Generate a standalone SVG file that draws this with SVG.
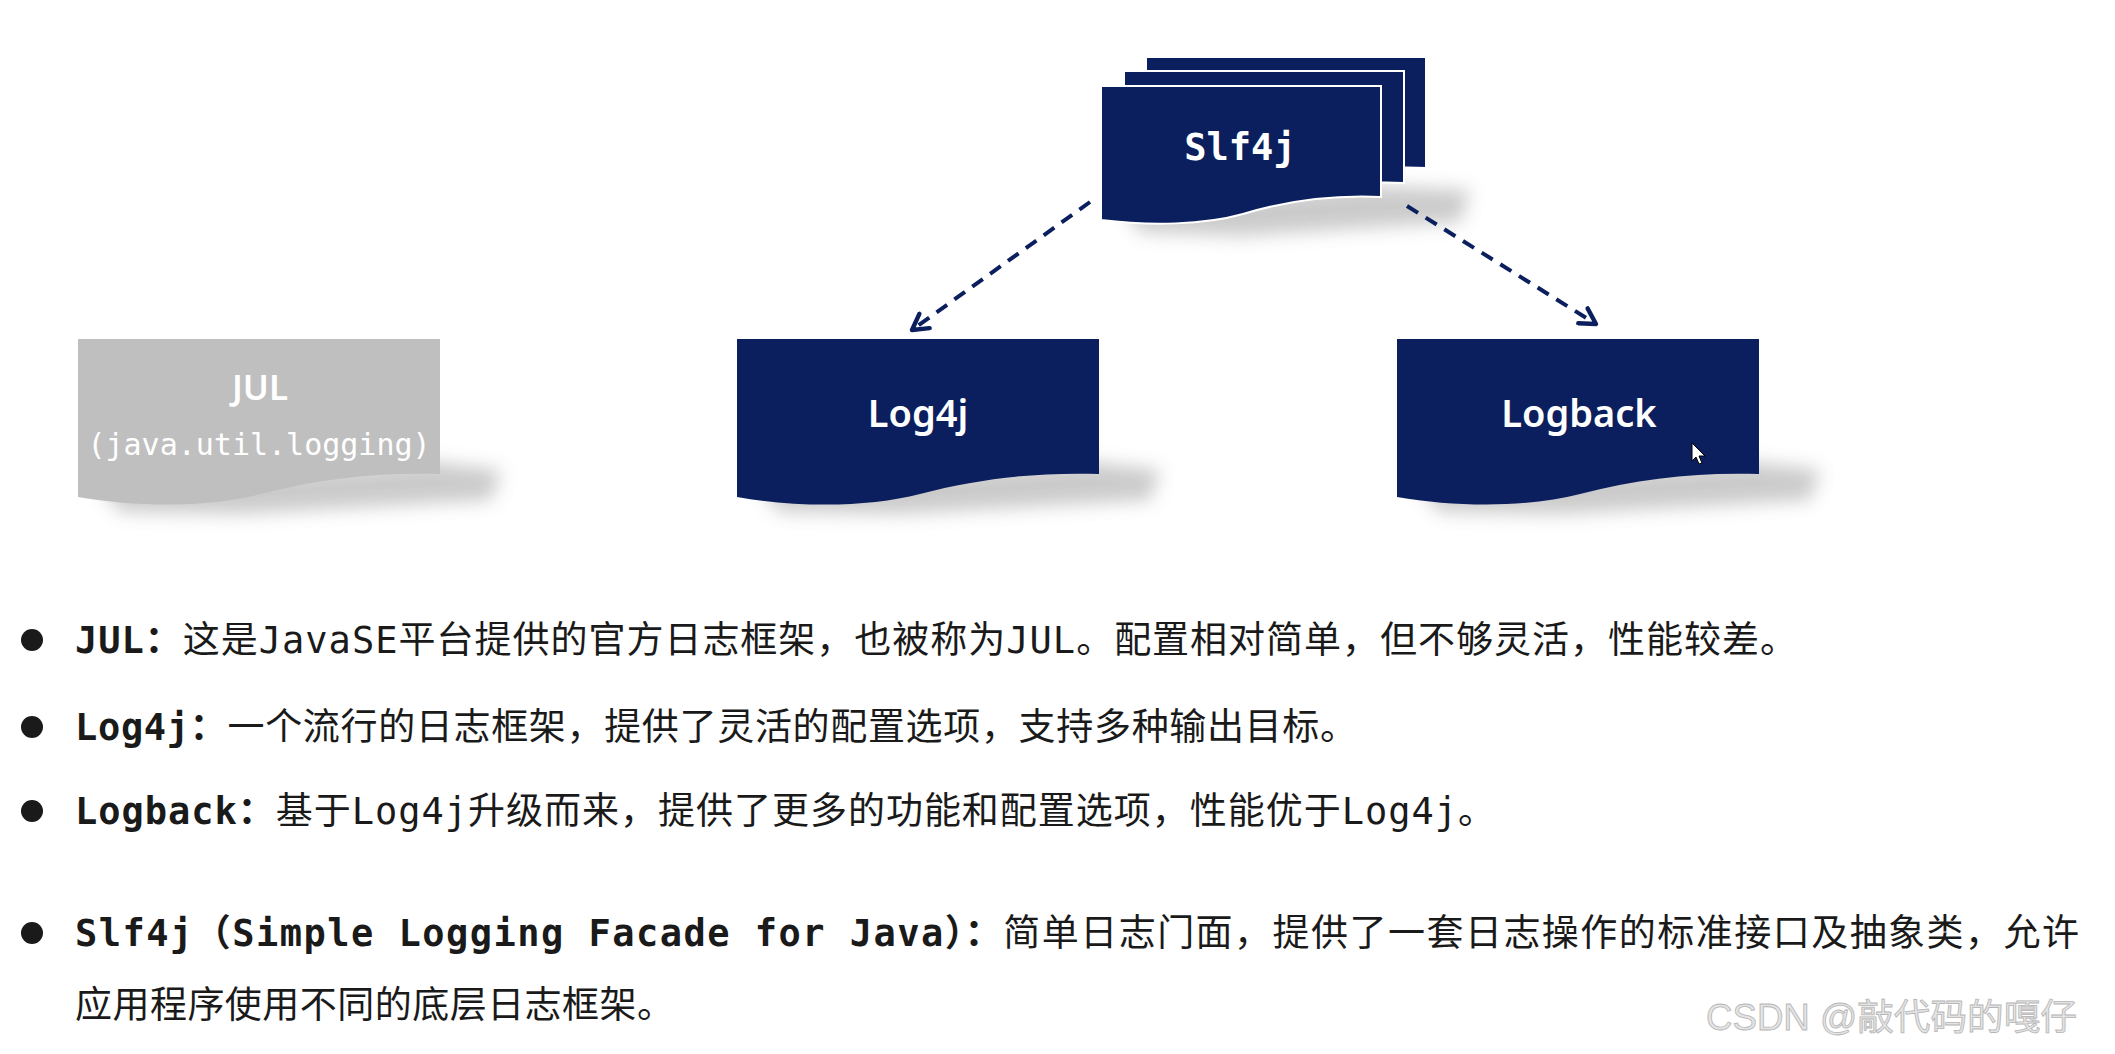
<svg xmlns="http://www.w3.org/2000/svg" width="2115" height="1054" viewBox="0 0 2115 1054">
<style>
.doc{fill:#0b1f5e}
.docg{fill:#bfbfbf}
.stk{fill:#0b1f5e;stroke:#ffffff;stroke-width:2}
.shadow{fill:#8c8c8c;opacity:0.45;filter:url(#blur)}
.lbl{fill:#ffffff;font-family:"Noto Sans","Open Sans","DejaVu Sans",sans-serif;font-weight:600;text-anchor:middle}
.mono{fill:#ffffff;font-family:"DejaVu Sans Mono","Liberation Mono",monospace;text-anchor:middle}
.conn{fill:none;stroke:#0b1f5e;stroke-width:4;stroke-dasharray:13 9}
.note{fill:#1a1a1a;font-family:"DejaVu Sans Mono","Noto Sans CJK SC",monospace;font-size:37px}
.b{font-weight:bold}
.bullet{fill:#1a1a1a}
</style>
<defs>
<filter id="blur" x="-20%" y="-50%" width="140%" height="200%"><feGaussianBlur stdDeviation="9"/></filter>
<marker id="arr" viewBox="0 0 20 20" refX="17" refY="10" markerWidth="22" markerHeight="22" markerUnits="userSpaceOnUse" orient="auto">
<path d="M3,2 L17,10 L3,18" fill="none" stroke="#0b1f5e" stroke-width="4" stroke-linecap="round" stroke-linejoin="round"/>
</marker>
</defs>
<rect width="2115" height="1054" fill="#ffffff"/>

<g id="node-jul">
<path class="shadow" d="M98,485 L431,462 L501,470 L491,500 L241,514 L121,512 Z"/>
<path class="docg" d="M78,339 H440 V474 C381,472 321,478 261,494 C211,507 141,508 78,497 Z"/>
<text class="lbl" x="260" y="400" font-size="35">JUL</text>
<text class="mono" x="259" y="455" font-size="30">(java.util.logging)</text>
</g>

<g id="node-log4j">
<path class="shadow" d="M757,485 L1090,462 L1160,470 L1150,500 L900,514 L780,512 Z"/>
<path class="doc" d="M737,339 H1099 V474 C1040,472 980,478 920,494 C870,507 800,508 737,497 Z"/>
<text class="lbl" x="918" y="427" font-size="38">Log4j</text>
</g>

<g id="node-logback">
<path class="shadow" d="M1417,485 L1750,462 L1820,470 L1810,500 L1560,514 L1440,512 Z"/>
<path class="doc" d="M1397,339 H1759 V474 C1700,472 1640,478 1580,494 C1530,507 1460,508 1397,497 Z"/>
<text class="lbl" x="1579" y="427" font-size="38">Logback</text>
<path d="M1692,443 L1692,461 L1696,457 L1699,464 L1702,463 L1699,456 L1705,456 Z" fill="#ffffff" stroke="#000000" stroke-width="1"/>
</g>

<g id="node-slf4j">
<path class="shadow" d="M1121,205 L1375,186 L1470,190 L1460,222 L1240,236 L1140,232 Z"/>
<path class="stk" d="M1146,57 H1426 V168 C1380,166 1334,171 1288,185 C1249,196 1195,197 1146,191 Z"/>
<path class="stk" d="M1124,71 H1404 V183 C1358,181 1312,186 1266,200 C1227,211 1173,212 1124,206 Z"/>
<path class="stk" d="M1101,86 H1381 V197 C1335,195 1289,200 1243,214 C1204,225 1150,226 1101,220 Z"/>
<text class="mono" x="1240" y="160" font-size="37" font-weight="bold">Slf4j</text>
</g>

<g id="connectors">
<line class="conn" x1="1090" y1="202" x2="912" y2="330" marker-end="url(#arr)"/>
<line class="conn" x1="1407" y1="206" x2="1596" y2="324" marker-end="url(#arr)"/>
</g>

<g id="notes">
<circle class="bullet" cx="32" cy="640" r="11"/>
<text class="note" x="75" y="653" textLength="1722" lengthAdjust="spacing"><tspan class="b">JUL：</tspan>这是JavaSE平台提供的官方日志框架，也被称为JUL。配置相对简单，但不够灵活，性能较差。</text>
<circle class="bullet" cx="32" cy="727" r="11"/>
<text class="note" x="75" y="740" textLength="1282" lengthAdjust="spacing"><tspan class="b">Log4j：</tspan>一个流行的日志框架，提供了灵活的配置选项，支持多种输出目标。</text>
<circle class="bullet" cx="32" cy="811" r="11"/>
<text class="note" x="75" y="824" textLength="1420" lengthAdjust="spacing"><tspan class="b">Logback：</tspan>基于Log4j升级而来，提供了更多的功能和配置选项，性能优于Log4j。</text>
<circle class="bullet" cx="32" cy="933" r="11"/>
<text class="note" x="75" y="946" textLength="2004" lengthAdjust="spacing"><tspan class="b">Slf4j（Simple Logging Facade for Java）：</tspan>简单日志门面，提供了一套日志操作的标准接口及抽象类，允许</text>
<text class="note" x="75" y="1018" textLength="599" lengthAdjust="spacing">应用程序使用不同的底层日志框架。</text>
</g>

<text x="1706" y="1030" font-family="'Liberation Sans','Noto Sans CJK SC',sans-serif" font-size="36" fill="#e4e4e4" stroke="#b5b5b5" stroke-width="0.8" textLength="371" lengthAdjust="spacingAndGlyphs">CSDN @敲代码的嘎仔</text>
</svg>
